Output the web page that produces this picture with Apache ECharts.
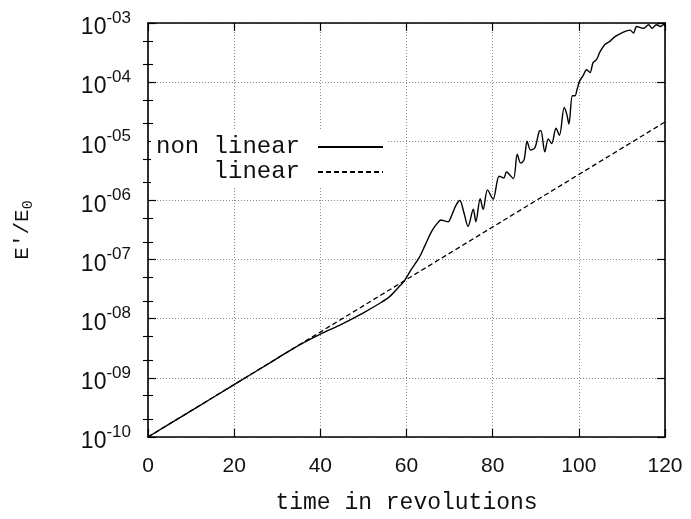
<!DOCTYPE html>
<html>
<head>
<meta charset="utf-8">
<script src="https://cdn.jsdelivr.net/npm/echarts@6/dist/echarts.min.js"></script>
<style>
  html, body { margin: 0; padding: 0; background: #fff; }
  #chart { width: 691px; height: 519px; }
</style>
</head>
<body>
<div id="chart"></div>
<script>
// time axis (revolutions)
var xTicks = [0, 20, 40, 60, 80, 100, 120];
// y axis decades, labels read as 10^-NN
var yTickLabels = ['-10', '-09', '-08', '-07', '-06', '-05', '-04', '-03'];
// minor ticks seen on the frame (2 and 5 of every decade)
var yMinorTicks = [2e-10, 5e-10, 2e-9, 5e-9, 2e-8, 5e-8, 2e-7, 5e-7, 2e-6, 5e-6, 2e-5, 5e-5, 2e-4, 5e-4];

// non linear run
var nonlinearTime = [0, 10, 20, 30, 35, 40, 45, 50, 54, 56, 58, 59.5, 61, 63, 64.3, 65.5, 66.3, 67, 68, 69, 69.7, 70.5, 71.5, 72.4, 73.3, 74.3, 75.5, 76.1, 77.1, 77.8, 78.8, 80.1, 81.5, 82.6, 83.2, 84.8, 85.7, 86.5, 87.3, 88.0, 88.8, 89.8, 90.8, 91.2, 92.1, 92.9, 93.7, 94.7, 95.5, 96.6, 97.2, 97.7, 98.5, 99.1, 99.6, 100.2, 101.0, 101.8, 102.6, 103.3, 104.1, 104.9, 106.1, 107.2, 108.4, 109.9, 111.9, 112.7, 113.4, 115.0, 116.2, 117.0, 118.0, 119.0, 119.8, 120];
var nonlinearValue = [1.0e-10, 2.77e-10, 7.67e-10, 2.14e-9, 3.55e-9, 5.50e-9, 8.13e-9, 1.26e-8, 1.86e-8, 2.34e-8, 3.31e-8, 4.37e-8, 6.61e-8, 1.10e-7, 1.74e-7, 2.69e-7, 3.39e-7, 3.98e-7, 4.68e-7, 4.47e-7, 4.37e-7, 5.62e-7, 8.32e-7, 1.0e-6, 6.3e-7, 3.63e-7, 7.08e-7, 4.37e-7, 1.07e-6, 7.08e-7, 1.51e-6, 1.05e-6, 2.57e-6, 2.40e-6, 3.02e-6, 2.34e-6, 6.03e-6, 4.27e-6, 4.90e-6, 1.0e-5, 7.08e-6, 7.76e-6, 1.48e-5, 1.51e-5, 6.61e-6, 1.10e-5, 9.12e-6, 1.66e-5, 1.26e-5, 3.72e-5, 2.88e-5, 1.95e-5, 5.89e-5, 5.89e-5, 7.59e-5, 1.05e-4, 1.29e-4, 1.62e-4, 1.45e-4, 2.14e-4, 2.40e-4, 3.24e-4, 4.37e-4, 4.90e-4, 5.89e-4, 6.76e-4, 7.59e-4, 6.76e-4, 8.71e-4, 8.13e-4, 9.33e-4, 8.13e-4, 9.33e-4, 8.71e-4, 9.55e-4, 8.91e-4];

// linear theory (straight line in log scale)
var linearTime = [0, 120];
var linearValue = [1.0e-10, 2.12e-5];

function pairs(xs, ys) {
  var out = [];
  for (var i = 0; i < xs.length; i++) out.push([xs[i], ys[i]]);
  return out;
}

var monoFont = 'Liberation Mono';
var sansFont = 'Liberation Sans';
var gridLine = { show: true, lineStyle: { color: '#8a8a8a', width: 1, type: [1, 2] } };
var frameLine = { show: true, onZero: false, lineStyle: { color: '#000', width: 1.6 } };

function logAxis(pos, extra) {
  var ax = {
    type: 'log',
    logBase: 10,
    position: pos,
    min: 1e-10,
    max: 1e-3,
    splitNumber: 7,
    axisLine: { show: false },
    axisTick: { show: false },
    axisLabel: { show: false },
    splitLine: { show: false }
  };
  for (var k in extra) ax[k] = extra[k];
  return ax;
}

var myChart = echarts.init(document.getElementById('chart'), null, { renderer: 'canvas' });

var option = {
  animation: false,
  backgroundColor: '#fff',
  grid: { left: 148, right: 26, top: 23, bottom: 76, containLabel: false },
  legend: {
    orient: 'vertical',
    align: 'right',
    right: 303,
    top: 131,
    padding: [4, 4, 4, 5],
    backgroundColor: '#fff',
    itemWidth: 65,
    itemHeight: 22,
    itemGap: 1,
    selectedMode: false,
    itemStyle: { opacity: 0 },
    data: ['non linear', 'linear'],
    textStyle: { fontFamily: monoFont, fontSize: 24, color: '#111', lineHeight: 22, padding: [0, 13, 0, 0] }
  },
  xAxis: [{
    type: 'value',
    position: 'bottom',
    min: xTicks[0],
    max: xTicks[xTicks.length - 1],
    interval: 20,
    name: 'time in revolutions',
    nameLocation: 'middle',
    nameGap: 54,
    nameTextStyle: { fontFamily: monoFont, fontSize: 23, color: '#111' },
    axisLine: frameLine,
    axisTick: { show: true, inside: true, length: 8, lineStyle: { color: '#000', width: 1.2 } },
    axisLabel: { margin: 19, fontFamily: sansFont, fontSize: 21, color: '#111' },
    splitLine: gridLine
  }, {
    type: 'value',
    position: 'top',
    min: xTicks[0],
    max: xTicks[xTicks.length - 1],
    interval: 20,
    axisLine: frameLine,
    axisTick: { show: true, inside: true, length: 8, lineStyle: { color: '#000', width: 1.2 } },
    axisLabel: { show: false },
    splitLine: { show: false }
  }],
  yAxis: [
    logAxis('left', {
      name: "{a|E'/E}{s|0}",
      nameLocation: 'middle',
      nameGap: 112,
      nameTextStyle: {
        color: '#111',
        rich: {
          a: { fontFamily: monoFont, fontSize: 21, color: '#111' },
          s: { fontFamily: monoFont, fontSize: 15, color: '#111', padding: [12, 0, 0, 0] }
        }
      },
      axisLine: frameLine,
      axisTick: { show: true, inside: true, length: 8, lineStyle: { color: '#000', width: 1.2 } },
      axisLabel: {
        show: true,
        margin: 17,
        formatter: function (value, index) {
          return '{b|10}{e|' + yTickLabels[index] + '}';
        },
        rich: {
          b: { fontFamily: sansFont, fontSize: 23, color: '#111', padding: [10, 0, 0, 0] },
          e: { fontFamily: sansFont, fontSize: 17, color: '#111', padding: [0, 0, 10, 0] }
        }
      },
      splitLine: gridLine
    }),
    logAxis('left', {
      axisTick: { show: true, inside: true, length: 5, customValues: yMinorTicks, lineStyle: { color: '#000', width: 1.1 } }
    }),
    logAxis('right', {
      axisLine: frameLine,
      axisTick: { show: true, inside: true, length: 8, lineStyle: { color: '#000', width: 1.2 } }
    }),
    logAxis('right', {
      axisTick: { show: true, inside: true, length: 5, customValues: yMinorTicks, lineStyle: { color: '#000', width: 1.1 } }
    })
  ],
  series: [{
    name: 'non linear',
    type: 'line',
    xAxisIndex: 0,
    yAxisIndex: 0,
    data: pairs(nonlinearTime, nonlinearValue),
    showSymbol: false,
    symbol: 'none',
    smooth: 0.3,
    lineStyle: { color: '#000', width: 1.4 },
    itemStyle: { color: '#000' },
    z: 3
  }, {
    name: 'linear',
    type: 'line',
    xAxisIndex: 0,
    yAxisIndex: 0,
    data: pairs(linearTime, linearValue),
    showSymbol: false,
    symbol: 'none',
    lineStyle: { color: '#000', width: 1.3, type: [5, 3] },
    itemStyle: { color: '#000' },
    z: 2
  }]
};

myChart.setOption(option);
</script>
</body>
</html>
